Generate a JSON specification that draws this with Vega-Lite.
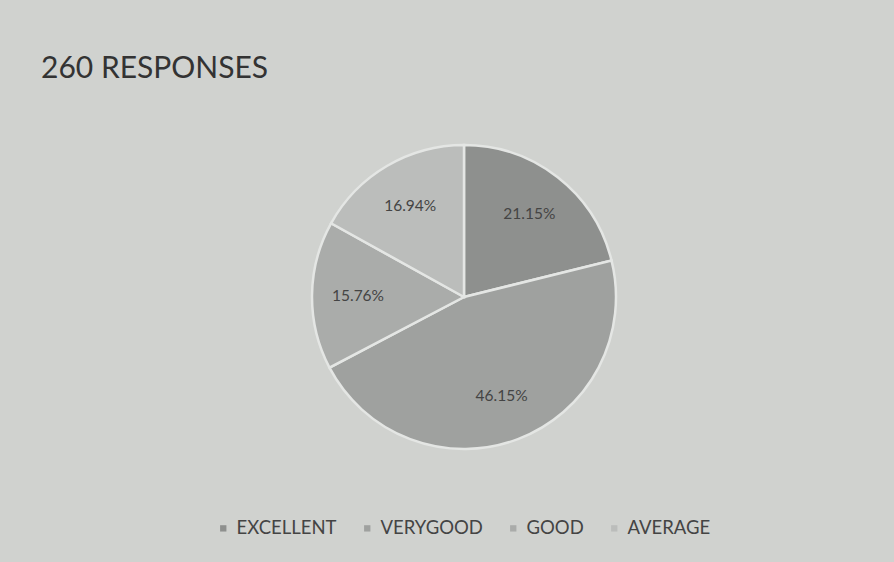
{
  "$schema": "https://vega.github.io/schema/vega-lite/v6.json",
  "autosize": {"type": "none"},
  "width": 860,
  "height": 394,
  "padding": {"left": 34, "top": 100, "right": 0, "bottom": 68},
  "background": "#d0d2cf",
  "config": {"view": {"stroke": null}, "font": "Lato"},
  "title": {"text": "260 RESPONSES", "anchor": "start", "dx": 7, "offset": 16, "fontSize": 30, "fontWeight": "normal", "color": "#333333", "font": "Lato"},
  "data": {"values": [
    {"category": "EXCELLENT", "share": 0.2115, "order": 1},
    {"category": "VERYGOOD", "share": 0.4615, "order": 2},
    {"category": "GOOD", "share": 0.1576, "order": 3},
    {"category": "AVERAGE", "share": 0.1694, "order": 4}
  ]},
  "encoding": {
    "theta": {"field": "share", "type": "quantitative", "stack": true},
    "order": {"field": "order", "type": "quantitative"}
  },
  "layer": [
    {
      "mark": {"type": "arc", "radius": 152, "stroke": "#e4e6e4", "strokeWidth": 2.5},
      "encoding": {
        "color": {"field": "category", "type": "nominal",
          "scale": {"domain": ["EXCELLENT", "VERYGOOD", "GOOD", "AVERAGE"], "range": ["#8e908e", "#9fa19f", "#aaacaa", "#bbbdbb"]},
          "legend": {"orient": "none", "legendX": 180, "legendY": 419, "direction": "horizontal", "title": null,
            "symbolType": "square", "symbolSize": 40, "labelFontSize": 18.5, "labelColor": "#444444", "labelFont": "Lato",
            "columnPadding": 21, "symbolStrokeWidth": 0}
        }
      }
    },
    {
      "mark": {"type": "text", "radius": 106, "fontSize": 15.5, "color": "#444444", "font": "Lato"},
      "encoding": {
        "text": {"field": "share", "type": "quantitative", "format": ".2%"}
      }
    }
  ]
}
